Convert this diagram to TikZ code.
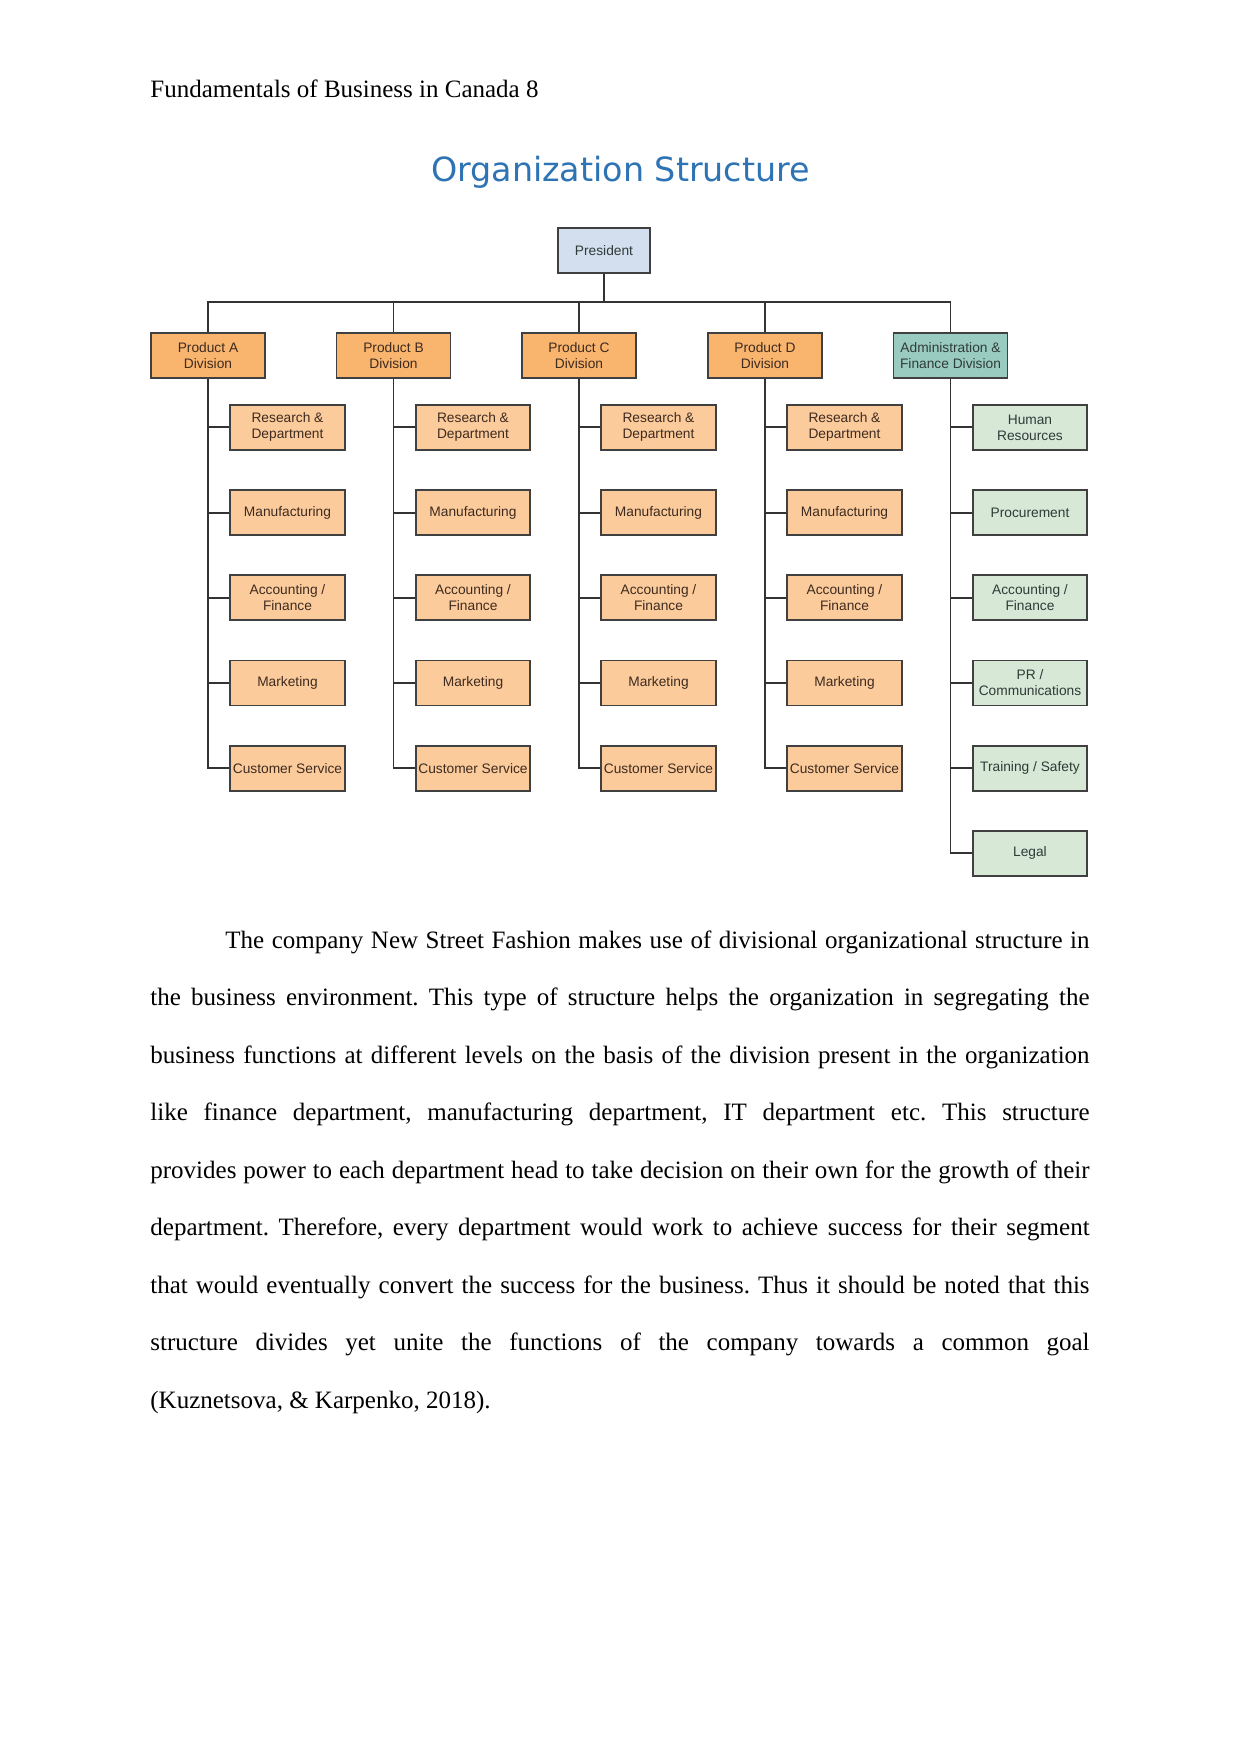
\documentclass[tikz,border=0pt]{standalone}
\usepackage{fontspec}
\setmainfont{Liberation Serif}
\newfontfamily\boxfont{Liberation Sans}
\newfontfamily\headfont{DejaVu Sans}
\usetikzlibrary{positioning}
\definecolor{presblue}{HTML}{D3DEEF}
\definecolor{divorange}{HTML}{F9B46E}
\definecolor{unitorange}{HTML}{FCCB9C}
\definecolor{admteal}{HTML}{9ACBC1}
\definecolor{admgreen}{HTML}{D7E8D7}
\definecolor{boxline}{HTML}{404040}
\definecolor{boxtext}{HTML}{3D2B1F}
\definecolor{admtext}{HTML}{2F3B36}
\definecolor{titleblue}{HTML}{2E74B5}
\frenchspacing

\begin{document}
\begin{tikzpicture}[x=0.48pt,y=-0.48pt,
	box/.style={rectangle, draw=boxline, line width=0.9pt, align=center, inner xsep=0.5pt, inner ysep=1pt, minimum height=21.6pt, text=boxtext, font=\boxfont\fontsize{6.6}{7.7}\selectfont},
	pres/.style={box, fill=presblue, minimum width=44pt, text=admtext},
	division/.style={box, fill=divorange, minimum width=54.7pt},
	unit/.style={box, fill=unitorange, minimum width=54.8pt},
	adm/.style={box, fill=admteal, minimum width=54.7pt, text=admtext},
	admunit/.style={box, fill=admgreen, minimum width=54.8pt, text=admtext},
	conn/.style={draw=black!80, line width=0.9pt},
	node distance=18.4pt]
			\fill [white] (0,0) rectangle (1241,1754);
			\useasboundingbox (0,0) rectangle (1241,1754);
			
			\node [anchor=base west, inner sep=0pt, font=\fontsize{12}{14}\selectfont] (header) at (150,97) {Fundamentals of Business in Canada 8};
			\node [anchor=base, inner sep=0pt, text=titleblue, font=\headfont\fontsize{16}{19}\selectfont] (title) at (620.5,181) {Organization Structure};
			
			\node [pres] (P) at (604,250.5) {President};
			\node [division] (A) at (208,355.5) {Product A\\Division};
			\node [division] (B) at (393.5,355.5) {Product B\\Division};
			\node [division] (C) at (579,355.5) {Product C\\Division};
			\node [division] (D) at (765,355.5) {Product D\\Division};
			\node [adm] (E) at (950.5,355.5) {Administration \&\\Finance Division};
			
			\node [unit, below right=12pt and -17.5pt of A] (A1) {Research \&\\Department};
			\node [unit, below=of A1] (A2) {Manufacturing};
			\node [unit, below=of A2] (A3) {Accounting /\\Finance};
			\node [unit, below=of A3] (A4) {Marketing};
			\node [unit, below=of A4] (A5) {Customer Service};
			
			\node [unit, below right=12pt and -17.5pt of B] (B1) {Research \&\\Department};
			\node [unit, below=of B1] (B2) {Manufacturing};
			\node [unit, below=of B2] (B3) {Accounting /\\Finance};
			\node [unit, below=of B3] (B4) {Marketing};
			\node [unit, below=of B4] (B5) {Customer Service};
			
			\node [unit, below right=12pt and -17.5pt of C] (C1) {Research \&\\Department};
			\node [unit, below=of C1] (C2) {Manufacturing};
			\node [unit, below=of C2] (C3) {Accounting /\\Finance};
			\node [unit, below=of C3] (C4) {Marketing};
			\node [unit, below=of C4] (C5) {Customer Service};
			
			\node [unit, below right=12pt and -17.5pt of D] (D1) {Research \&\\Department};
			\node [unit, below=of D1] (D2) {Manufacturing};
			\node [unit, below=of D2] (D3) {Accounting /\\Finance};
			\node [unit, below=of D3] (D4) {Marketing};
			\node [unit, below=of D4] (D5) {Customer Service};
			
			\node [admunit, below right=12pt and -17.5pt of E] (E1) {Human\\Resources};
			\node [admunit, below=of E1] (E2) {Procurement};
			\node [admunit, below=of E2] (E3) {Accounting /\\Finance};
			\node [admunit, below=of E3] (E4) {PR /\\Communications};
			\node [admunit, below=of E4] (E5) {Training / Safety};
			\node [admunit, below=of E5] (E6) {Legal};
			
			\coordinate (bus) at (604,302);
			\draw [conn] (P.south) -- (bus);
			\draw [conn] (A.north) |- (bus) -| (E.north);
			\draw [conn] (B.north) -- (B.north |- bus);
			\draw [conn] (C.north) -- (C.north |- bus);
			\draw [conn] (D.north) -- (D.north |- bus);
			
			\draw [conn] (A.south) |- (A1.west) (A.south) |- (A2.west) (A.south) |- (A3.west) (A.south) |- (A4.west) (A.south) |- (A5.west);
			\draw [conn] (B.south) |- (B1.west) (B.south) |- (B2.west) (B.south) |- (B3.west) (B.south) |- (B4.west) (B.south) |- (B5.west);
			\draw [conn] (C.south) |- (C1.west) (C.south) |- (C2.west) (C.south) |- (C3.west) (C.south) |- (C4.west) (C.south) |- (C5.west);
			\draw [conn] (D.south) |- (D1.west) (D.south) |- (D2.west) (D.south) |- (D3.west) (D.south) |- (D4.west) (D.south) |- (D5.west);
			\draw [conn] (E.south) |- (E1.west) (E.south) |- (E2.west) (E.south) |- (E3.west) (E.south) |- (E4.west) (E.south) |- (E5.west) (E.south) |- (E6.west);
			
			\node [anchor=north west, inner sep=0pt, text width=450.8pt, align=justify, font=\fontsize{12}{27.6}\selectfont] (body) at (150,930) {\tolerance=10000\hyphenpenalty=10000\hspace*{36pt}The company New Street Fashion makes use of divisional organizational structure in\linebreak the business environment. This type of structure helps the organization in segregating the\linebreak business functions at different levels on the basis of the division present in the organization\linebreak like finance department, manufacturing department, IT department etc. This structure\linebreak provides power to each department head to take decision on their own for the growth of their\linebreak department. Therefore, every department would work to achieve success for their segment\linebreak that would eventually convert the success for the business. Thus it should be noted that this\linebreak structure divides yet unite the functions of the company towards a common goal\linebreak (Kuznetsova, \& Karpenko, 2018).};
		\end{tikzpicture}
\end{document}
